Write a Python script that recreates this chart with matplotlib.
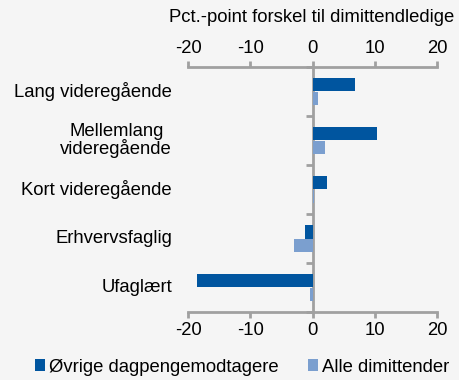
import numpy as np
import matplotlib.pyplot as plt
from matplotlib.transforms import blended_transform_factory

# Uddannelsesniveauer, øverst til nederst
categories = ['Lang videregående', 'Mellemlang\nvideregående', 'Kort videregående',
              'Erhvervsfaglig', 'Ufaglært']
ovrige = [6.9, 10.3, 2.4, -1.2, -18.5]
dimittender = [0.9, 2.0, 0.3, -2.9, -0.4]
xticks = [-20, -10, 0, 10, 20]

dark = '#00559f'
light = '#7b9fcf'
grey = '#a0a0a0'
bg = '#f5f5f5'

plt.rcParams['font.family'] = ['Liberation Sans', 'DejaVu Sans']
plt.rcParams['axes.unicode_minus'] = False
fs = 13.3

fig = plt.figure(figsize=(4.59, 3.80), dpi=100, facecolor=bg)
ax = fig.add_axes([188 / 459, 68 / 380, 249 / 459, 245 / 380], facecolor=bg)

y = np.arange(len(categories))
h = 0.27
ax.barh(y - h / 2, ovrige, height=h, color=dark, label='Øvrige dagpengemodtagere')
ax.barh(y + h / 2, dimittender, height=h, color=light, label='Alle dimittender')

ax.set_xlim(-20, 20)
ax.set_ylim(len(categories) - 0.5, -0.5)

# akser: top og bund med tal, lodret akse ved 0
for side in ['top', 'bottom']:
    ax.spines[side].set_color(grey)
    ax.spines[side].set_linewidth(2)
ax.spines['right'].set_visible(False)
ax.spines['left'].set_position(('data', 0))
ax.spines['left'].set_color(grey)
ax.spines['left'].set_linewidth(2)
ax.spines['left'].set_zorder(0.5)

ax.set_xticks(xticks)
ax.tick_params(axis='x', top=True, labeltop=True, bottom=True, labelbottom=True,
               direction='out', length=4, width=2, color=grey, labelsize=fs, pad=3)

ax.set_yticks(np.arange(len(categories) + 1) - 0.5)
ax.set_yticklabels([])
ax.tick_params(axis='y', direction='out', length=5, width=2, color=grey)

trans = blended_transform_factory(ax.transAxes, ax.transData)
for i, c in enumerate(categories):
    ax.text(-0.064, i, c, transform=trans, ha='right', va='center',
            multialignment='center', fontsize=fs, linespacing=1.0)

fig.text(312 / 459, 1 - 18 / 380, 'Pct.-point forskel til dimittendledige',
         ha='center', va='center', fontsize=fs)

fig.legend(loc='center', bbox_to_anchor=(242 / 459, 1 - 367 / 380), ncol=2,
           frameon=False, fontsize=fs, handlelength=0.55, handleheight=0.55,
           handletextpad=0.2, columnspacing=1.6)

fig.savefig('out.png', dpi=100, facecolor=bg)
